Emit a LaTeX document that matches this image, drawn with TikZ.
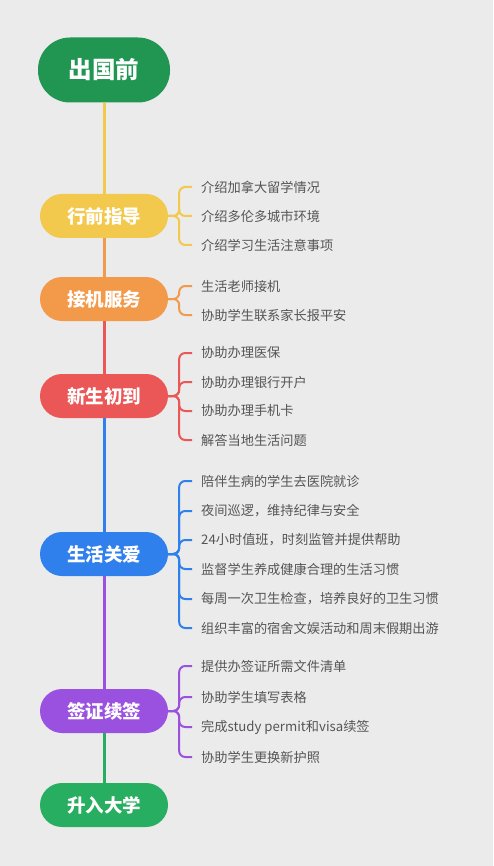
\documentclass[tikz,border=0pt]{standalone}
\usepackage{fontspec}
\setmainfont{Noto Sans CJK SC}
\usetikzlibrary{positioning}
\definecolor{PaperGray}{HTML}{EBEBEB}
\definecolor{StartGreen}{HTML}{219653}
\definecolor{GuideYellow}{HTML}{F2C94C}
\definecolor{PickOrange}{HTML}{F2994A}
\definecolor{ArriveRed}{HTML}{EB5757}
\definecolor{CareBlue}{HTML}{2F80ED}
\definecolor{VisaPurple}{HTML}{9B51E0}
\definecolor{UniGreen}{HTML}{27AE60}
\definecolor{LeafGray}{HTML}{555555}
\tikzset{
  stage/.style={rounded corners=22pt, minimum width=128pt, minimum height=44pt,
    inner sep=0pt, text=white, font=\fontsize{18.5}{20}\selectfont\bfseries},
  leaf/.style={anchor=west, inner sep=0pt, text=LeafGray,
    font=\fontsize{13.2}{15}\selectfont},
  trunk/.style={line width=3pt},
  twig/.style={line width=2pt, rounded corners=6pt},
}

\begin{document}
\begin{tikzpicture}[x=1pt, y=-1pt]
    \fill[PaperGray] (0,0) rectangle (493,866);
    % stages
    \node[stage, fill=StartGreen, minimum width=132pt, minimum height=65pt,
      rounded corners=32pt, font=\fontsize{23.5}{25}\selectfont\bfseries] (start) at (104,70) {出国前};
    \node[stage, fill=GuideYellow] (guide) at (104,216) {行前指导};
    \node[stage, fill=PickOrange] (pick) at (104,299) {接机服务};
    \node[stage, fill=ArriveRed] (arrive) at (104,396) {新生初到};
    \node[stage, fill=CareBlue] (care) at (104,554) {生活关爱};
    \node[stage, fill=VisaPurple] (visa) at (104,711) {签证续签};
    \node[stage, fill=UniGreen] (uni) at (104,805) {升入大学};
    \draw[trunk, GuideYellow] (start) -- (guide);
    \draw[trunk, PickOrange] (guide) -- (pick);
    \draw[trunk, ArriveRed] (pick) -- (arrive);
    \draw[trunk, CareBlue] (arrive) -- (care);
    \draw[trunk, VisaPurple] (care) -- (visa);
    \draw[trunk, UniGreen] (visa) -- (uni);
    % leaves
    \node[leaf] (guide1) at (201,187) {介绍加拿大留学情况};
    \node[leaf] (guide2) at (201,216) {介绍多伦多城市环境};
    \node[leaf] (guide3) at (201,245) {介绍学习生活注意事项};
    \node[leaf] (pick1) at (201,286) {生活老师接机};
    \node[leaf] (pick2) at (201,315) {协助学生联系家长报平安};
    \node[leaf] (arrive1) at (201,353) {协助办理医保};
    \node[leaf] (arrive2) at (201,382) {协助办理银行开户};
    \node[leaf] (arrive3) at (201,411) {协助办理手机卡};
    \node[leaf] (arrive4) at (201,440) {解答当地生活问题};
    \node[leaf] (care1) at (201,481) {陪伴生病的学生去医院就诊};
    \node[leaf] (care2) at (201,511) {夜间巡逻，维持纪律与安全};
    \node[leaf] (care3) at (201,540) {24小时值班，时刻监管并提供帮助};
    \node[leaf] (care4) at (201,569) {监督学生养成健康合理的生活习惯};
    \node[leaf] (care5) at (201,599) {每周一次卫生检查，培养良好的卫生习惯};
    \node[leaf] (care6) at (201,628) {组织丰富的宿舍文娱活动和周末假期出游};
    \node[leaf] (visa1) at (201,666) {提供办签证所需文件清单};
    \node[leaf] (visa2) at (201,697) {协助学生填写表格};
    \node[leaf] (visa3) at (201,727) {完成study permit和visa续签};
    \node[leaf] (visa4) at (201,757) {协助学生更换新护照};
    \foreach \i in {1,2,3}
      \draw[twig, GuideYellow] (guide.east) -- ++(11,0) |- ([xshift=-9pt]guide\i.west);
    \foreach \i in {1,2}
      \draw[twig, PickOrange] (pick.east) -- ++(11,0) |- ([xshift=-9pt]pick\i.west);
    \foreach \i in {1,...,4}
      \draw[twig, ArriveRed] (arrive.east) -- ++(11,0) |- ([xshift=-9pt]arrive\i.west);
    \foreach \i in {1,...,6}
      \draw[twig, CareBlue] (care.east) -- ++(11,0) |- ([xshift=-9pt]care\i.west);
    \foreach \i in {1,...,4}
      \draw[twig, VisaPurple] (visa.east) -- ++(11,0) |- ([xshift=-9pt]visa\i.west);
\end{tikzpicture}
\end{document}
